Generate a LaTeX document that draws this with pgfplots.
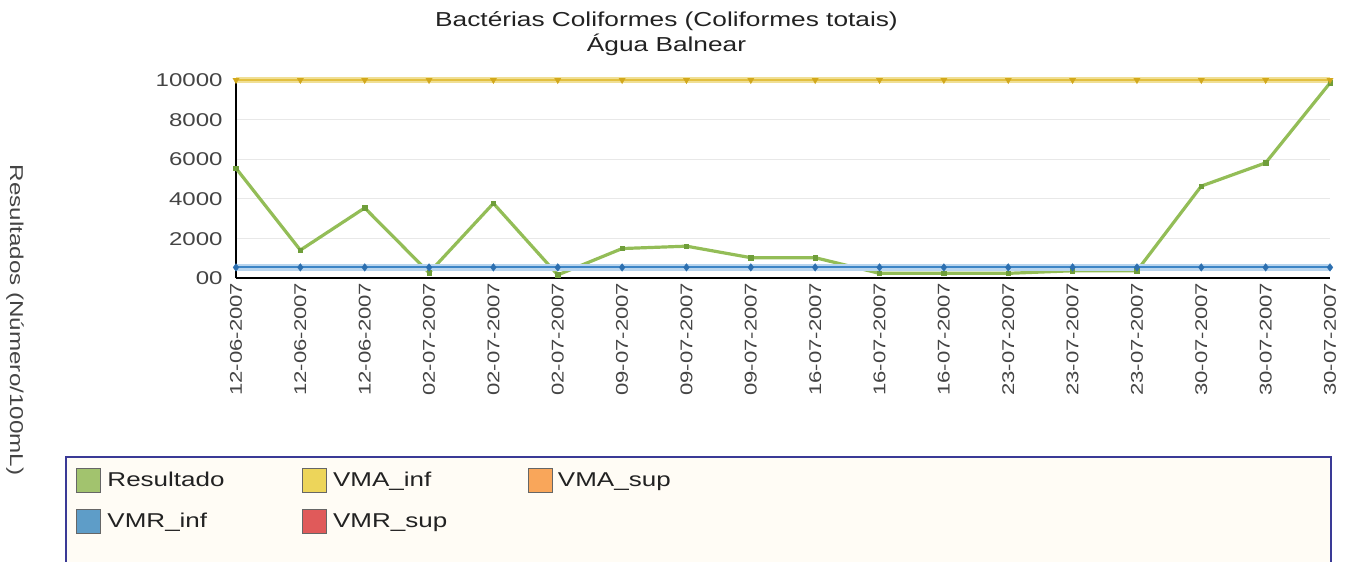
\documentclass[border=0pt]{standalone}
\usepackage{pgfplots}
\pgfplotsset{compat=1.18}
\usepackage{fontspec}
\setmainfont[FakeStretch=1.3]{Liberation Sans}
\definecolor{resgreen}{HTML}{93BD57}
\definecolor{resmark}{HTML}{6F9E3A}
\definecolor{vmaline}{HTML}{E3C040}
\definecolor{vmahalo}{HTML}{F0DF95}
\definecolor{vmamark}{HTML}{D2A81C}
\definecolor{vmrline}{HTML}{3D85C6}
\definecolor{vmrhalo}{HTML}{B9D5EE}
\definecolor{vmrmark}{HTML}{2C6FB0}
\definecolor{gridgray}{HTML}{E8E8E8}
\definecolor{ticktext}{HTML}{444444}
\definecolor{legfill}{HTML}{FFFCF5}
\definecolor{legborder}{HTML}{3A3A96}
\definecolor{legtext}{HTML}{222222}
\definecolor{swgreen}{HTML}{A2C36E}
\definecolor{swyellow}{HTML}{EDD55A}
\definecolor{sworange}{HTML}{F9A65A}
\definecolor{swblue}{HTML}{5E9DC8}
\definecolor{swred}{HTML}{E05A5A}
\pgfplotsset{legsw/.style={legend image code/.code={%
  \draw[draw=black!60, fill=#1, line width=0.5pt, solid] (0pt,-6pt) rectangle (12pt,6pt);
  \path (14.5pt,0pt);}}}
\pgfplotstableread{
x res vma vmr
0 5550 10000 550
1 1420 10000 550
2 3550 10000 550
3 280 10000 550
4 3780 10000 550
5 170 10000 550
6 1500 10000 550
7 1620 10000 550
8 1040 10000 550
9 1040 10000 550
10 250 10000 550
11 250 10000 550
12 250 10000 550
13 380 10000 550
14 380 10000 550
15 4650 10000 550
16 5820 10000 550
17 9850 10000 550
}\datatable
\begin{document}
\begin{tikzpicture}
\fill[legfill] (-85pt,-146pt) rectangle (547.5pt,-89.35pt);
\draw[legborder, line width=1pt] (-85pt,-146pt) -- (-85pt,-89.35pt) -- (547.5pt,-89.35pt) -- (547.5pt,-146pt);
\begin{axis}[
  at={(0,0)}, anchor=south west, scale only axis,
  width=547pt, height=99.15pt,
  xmin=0, xmax=17, ymin=0, ymax=10000, clip=false,
  axis x line*=bottom, axis y line*=left,
  axis line style={line width=0.9pt, black, -},
  xtick={0,...,17},
  xticklabels={12-06-2007,12-06-2007,12-06-2007,02-07-2007,02-07-2007,02-07-2007,09-07-2007,09-07-2007,09-07-2007,16-07-2007,16-07-2007,16-07-2007,23-07-2007,23-07-2007,23-07-2007,30-07-2007,30-07-2007,30-07-2007},
  ytick={0,2000,4000,6000,8000,10000},
  yticklabels={00,2000,4000,6000,8000,10000},
  scaled y ticks=false,
  major tick length=0pt,
  ymajorgrids, grid style={line width=0.5pt, gridgray},
  tick label style={text=ticktext},
  yticklabel style={font=\fontsize{9.25pt}{11pt}\selectfont, inner sep=0pt, xshift=-6.5pt},
  xticklabel style={font=\fontsize{8.5pt}{10pt}\selectfont, rotate=90, anchor=east, inner sep=0pt},
  xticklabel shift=2pt,
  /pgf/number format/assume math mode=true,
  legend columns=3,
  legend cell align=left,
  legend style={at={(-0.15174,-0.9365)}, anchor=north west, draw=none, fill=none,
    font=\fontsize{10pt}{11pt}\selectfont, text=legtext,
    nodes={inner sep=0pt}, row sep=8pt,
    /tikz/every even column/.style={column sep=0pt}},
]
\addplot[resgreen, line width=1.6pt, mark=square*, mark size=1.1pt,
  mark options={fill=resmark, draw=resmark, line width=0.3pt}, legsw=swgreen]
  table[x=x, y=res] {\datatable};
\addlegendentry{\makebox[97.5pt][l]{Resultado}}
\addplot[vmahalo, line width=2.6pt, forget plot] table[x=x, y=vma] {\datatable};
\addplot[vmaline, line width=1.1pt, mark=triangle*, mark size=1.8pt,
  mark options={fill=vmamark, draw=vmamark, rotate=180, line width=0.2pt}, legsw=swyellow]
  table[x=x, y=vma] {\datatable};
\addlegendentry{\makebox[97.5pt][l]{VMA\_inf}}
\addlegendimage{legsw=sworange}
\addlegendentry{\makebox[97.5pt][l]{VMA\_sup}}
\addplot[vmrhalo, line width=3.6pt, forget plot] table[x=x, y=vmr] {\datatable};
\addplot[vmrline, line width=1.1pt, mark=diamond*, mark size=1.9pt,
  mark options={fill=vmrmark, draw=vmrmark, line width=0.2pt}, legsw=swblue]
  table[x=x, y=vmr] {\datatable};
\addlegendentry{\makebox[97.5pt][l]{VMR\_inf}}
\addlegendimage{legsw=swred}
\addlegendentry{\makebox[97.5pt][l]{VMR\_sup}}
\end{axis}
\node[anchor=base, text=legtext, font=\fontsize{10.1pt}{12pt}\selectfont] at (215.25pt,125.65pt) {Bactérias Coliformes (Coliformes totais)};
\node[anchor=base, text=legtext, font=\fontsize{10.1pt}{12pt}\selectfont] at (215.25pt,113.15pt) {Água Balnear};
\node[rotate=-90, text=ticktext, font=\fontsize{9.3pt}{11pt}\selectfont] at (-110.5pt,-20.85pt) {Resultados (Número/100mL)};
\pgfresetboundingbox
\path[use as bounding box] (-118pt,-141.85pt) rectangle (557pt,139.15pt);
\end{tikzpicture}
\end{document}
